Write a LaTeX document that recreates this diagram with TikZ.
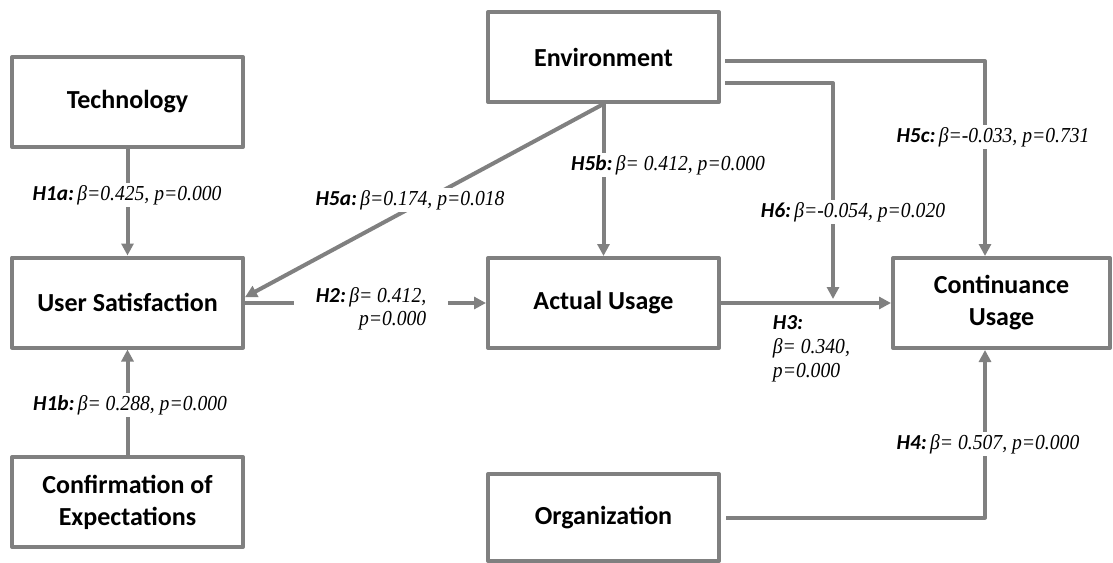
\documentclass[tikz,border=0pt]{standalone}
\usepackage{fontspec}
\usetikzlibrary{arrows.meta}
\newfontfamily\boxfont{Carlito}
\newfontfamily\numfont[FakeStretch=0.92]{Liberation Serif}
\definecolor{linegray}{RGB}{128,128,128}
\newcommand{\hyp}[2]{{\boxfont\bfseries\itshape #1:}\hspace{2.5pt}{\numfont\itshape #2}}
\begin{document}
\begin{tikzpicture}[x=0.75pt, y=-0.75pt, line join=round, >={Triangle[length=9pt,width=9pt]},
	box/.style={draw=linegray, line width=3pt, minimum width=173.25pt, minimum height=67.5pt, align=center, text=black, font=\boxfont\bfseries\fontsize{19.5}{24}\selectfont},
	arr/.style={draw=linegray, line width=3pt, ->},
	lab/.style={fill=white, inner sep=2pt, font=\fontsize{16}{17.5}\selectfont}]
		\useasboundingbox (0,0) rectangle (1113,563);
		% boxes
		\node[box] (tech) at (127.5,102) {Technology};
		\node[box] (us) at (127.5,302.5) {User Satisfaction};
		\node[box] (conf) at (127.5,502) {Confirmation of\\Expectations};
		\node[box] (env) at (603.5,57) {Environment};
		\node[box] (au) at (603.5,303) {Actual Usage};
		\node[box, minimum height=65.25pt] (org) at (603.5,517.5) {Organization};
		\node[box, minimum width=162.75pt] (cont) at (1001.5,303) {Continuance\\Usage};
		\coordinate (c5) at (985,0);
		\coordinate (h6end) at (833,299);
		% H2 label (no fill, the line stops at its sides)
		\node[inner sep=0pt, minimum width=115pt, align=right, font=\fontsize{16}{17.5}\selectfont] (h2) at (371,309) {\hyp{H2}{β= 0.412,}\\{\numfont\itshape p=0.000}};
		% paths
		\draw[arr] (tech) -- (us);
		\draw[arr] (conf) -- (us);
		\draw[arr] (env.south) -- ([yshift=4pt]us.east);
		\draw[arr] (env) -- (au);
		\draw[draw=linegray, line width=3pt] (us.east) -- (h2.west |- us.east);
		\draw[arr] (h2.east |- au.west) -- (au.west);
		\draw[arr] (au.east) -- (cont.west);
		\draw[arr, shorten <=3pt] (env.east |- 0,83) -| (h6end);
		\draw[arr, shorten <=3pt] (env.east |- 0,61) -| (cont.north -| c5);
		\draw[arr, shorten <=4pt] (org.east) -| (cont.south -| c5);
		% labels
		\node[lab] (h1a) at (127,195) {\hyp{H1a}{β=0.425, p=0.000}};
		\node[lab] (h1b) at (130,405) {\hyp{H1b}{β= 0.288, p=0.000}};
		\node[lab] (h5a) at (410,200) {\hyp{H5a}{β=0.174, p=0.018}};
		\node[lab] (h5b) at (668,165) {\hyp{H5b}{β= 0.412, p=0.000}};
		\node[lab] (h6) at (853,212) {\hyp{H6}{β=-0.054, p=0.020}};
		\node[lab] (h5c) at (993,137) {\hyp{H5c}{β=-0.033, p=0.731}};
		\node[lab] (h4) at (988,444) {\hyp{H4}{β= 0.507, p=0.000}};
		\node[lab, align=left, anchor=west, font=\fontsize{16}{18}\selectfont] (h3) at (770,349) {{\boxfont\bfseries\itshape H3:}\\{\numfont\itshape β= 0.340,}\\{\numfont\itshape p=0.000}};
\end{tikzpicture}
\end{document}
